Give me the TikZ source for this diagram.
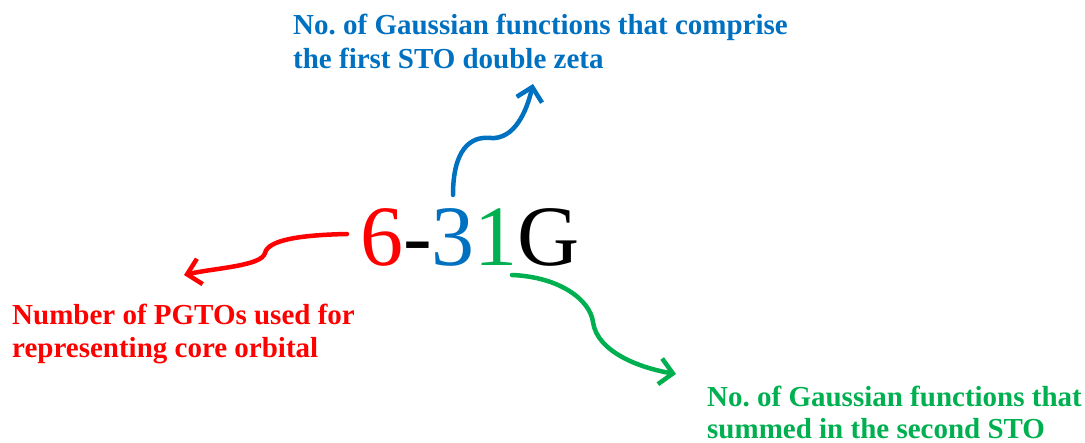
\documentclass[tikz,border=0pt]{standalone}
\usepackage{fontspec}
\setmainfont{LiberationSerif}[Extension=.ttf, UprightFont=*-Regular, BoldFont=*-Bold, ItalicFont=*-Italic, BoldItalicFont=*-BoldItalic]
\usetikzlibrary{arrows.meta}
\frenchspacing
\definecolor{cred}{RGB}{255,0,0}
\definecolor{cblue}{RGB}{0,112,192}
\definecolor{cgreen}{RGB}{0,176,80}
\tikzset{
  lbl/.style={inner sep=0pt, align=left, font=\bfseries\fontsize{29}{33}\selectfont, anchor=base west},
  big/.style={inner sep=0pt, font=\fontsize{86}{90}\selectfont, anchor=base west},
  conn/.style={line width=4.5pt, line cap=round, -{Straight Barb[length=13pt,width=26pt,line width=4.5pt]}},
}
\begin{document}
\begin{tikzpicture}[x=1pt,y=-1pt]
\useasboundingbox (0,0) rectangle (1085,443);
% labels
\node[lbl, text=cblue] (blue1) at (293,35) {No. of Gaussian functions that comprise};
\node[lbl, text=cblue] (blue2) at (293,69) {the first STO double zeta};
\node[lbl, text=cred] (red1) at (12,325) {Number of PGTOs used for};
\node[lbl, text=cred] (red2) at (12,358) {representing core orbital};
\node[lbl, text=cgreen] (green1) at (707,407) {No. of Gaussian functions that};
\node[lbl, text=cgreen] (green2) at (707,439) {summed in the second STO};
% formula
\node[big] (f) at (360,266) {\textcolor{cred}{6}-\textcolor{cblue}{3}\textcolor{cgreen}{1}G};
% connector endpoints
\coordinate (bs) at (453,195);
\coordinate (be) at (533,84);
\coordinate (rs) at (347,234);
\coordinate (re) at (184,275);
\coordinate (gs) at (512,275);
\coordinate (ge) at (676,374);
\draw[conn, cblue] (bs) .. controls (453,150) and (470,136) .. (490,138)
   .. controls (515,140) and (527,110) .. (be);
\draw[conn, cred] (rs) .. controls (300,235) and (268,240) .. (265,253)
   .. controls (262,266) and (215,268) .. (re);
\draw[conn, cgreen] (gs) .. controls (560,277) and (590,300) .. (593,322)
   .. controls (597,352) and (640,368) .. (ge);
\end{tikzpicture}
\end{document}
